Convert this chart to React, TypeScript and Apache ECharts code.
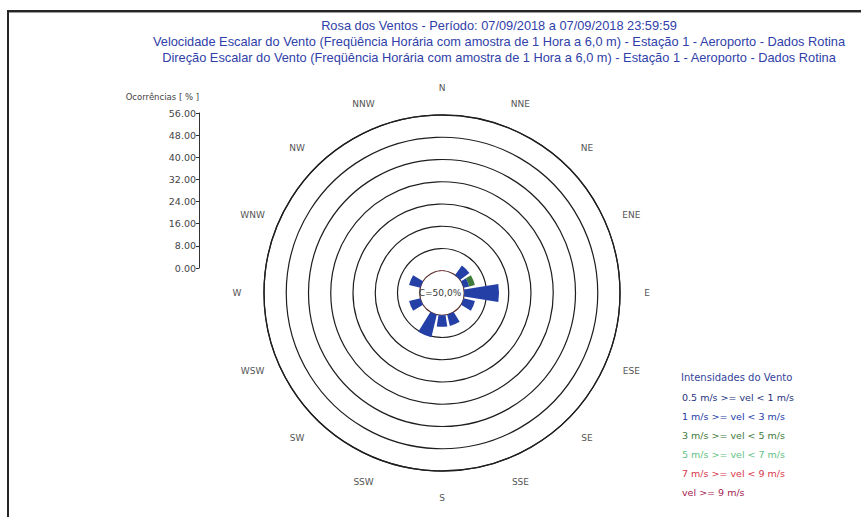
import React, { useEffect, useRef } from "react";
import * as echarts from "echarts";

// Wind directions, clockwise from north
const directions = [
  "N", "NNE", "NE", "ENE", "E", "ESE", "SE", "SSE",
  "S", "SSW", "SW", "WSW", "W", "WNW", "NW", "NNW",
];

// Wind speed classes (legend)
const speedClasses = [
  "0.5 m/s >= vel < 1 m/s",
  "1 m/s >= vel < 3 m/s",
  "3 m/s >= vel < 5 m/s",
  "5 m/s >= vel < 7 m/s",
  "7 m/s >= vel < 9 m/s",
  "vel >= 9 m/s",
];
const classColors = ["#26337e", "#2440a6", "#3f7a3c", "#62c184", "#d8364a", "#a3234f"];

// Occurrence frequency [%] per direction for each speed class
const vel05to1 = [0, 0, 0, 0, 0, 0, 0, 0, 0, 0, 0, 0, 0, 0, 0, 0];
const vel1to3 = [0, 0, 4.17, 2.08, 12.5, 4.17, 0, 4.17, 4.17, 8.33, 0, 4.17, 0, 4.17, 0, 0];
const vel3to5 = [0, 0, 0, 2.08, 0, 0, 0, 0, 0, 0, 0, 0, 0, 0, 0, 0];
const vel5to7 = [0, 0, 0, 0, 0, 0, 0, 0, 0, 0, 0, 0, 0, 0, 0, 0];
const vel7to9 = [0, 0, 0, 0, 0, 0, 0, 0, 0, 0, 0, 0, 0, 0, 0, 0];
const vel9plus = [0, 0, 0, 0, 0, 0, 0, 0, 0, 0, 0, 0, 0, 0, 0, 0];

// Calm percentage
const calmPercent = 50.0;

// Occurrence scale ticks
const occurrenceMin = 0;
const occurrenceMax = 56;
const occurrenceStep = 8;

const titleLines = [
  "Rosa dos Ventos - Período: 07/09/2018 a 07/09/2018 23:59:59",
  "Velocidade Escalar do Vento (Freqüência Horária com amostra de 1 Hora a 6,0 m) - Estação 1 - Aeroporto - Dados Rotina",
  "Direção Escalar do Vento (Freqüência Horária com amostra de 1 Hora a 6,0 m) - Estação 1 - Aeroporto - Dados Rotina",
];

const FONT = "DejaVu Sans, Verdana, sans-serif";
const TITLE_FONT = "Liberation Sans, Arial, sans-serif";
const CENTER_X = 442;
const CENTER_Y = 293;
const RADIUS = 178;
const LABEL_RADIUS = 205;

export default function App() {
  const ref = useRef<HTMLDivElement>(null);

  useEffect(() => {
    document.body.style.margin = "0";
    if (!ref.current) return;
    const chart = echarts.init(ref.current, undefined, { renderer: "svg" });

    const seriesData = [vel05to1, vel1to3, vel3to5, vel5to7, vel7to9, vel9plus];

    // Ring colours: r=0 (hidden), calm circle, then 8..56 %
    const ringColors = ["rgba(0,0,0,0)", "#5a2e2e", "#1e1e1e", "#1e1e1e", "#1e1e1e", "#1e1e1e", "#1e1e1e", "#1e1e1e", "#1e1e1e"];

    // Compass labels, centred on a circle around the rose
    const step = (2 * Math.PI) / directions.length;
    const compassLabels = directions.map((d, i) => ({
      type: "text",
      x: CENTER_X + LABEL_RADIUS * Math.sin(i * step),
      y: CENTER_Y - LABEL_RADIUS * Math.cos(i * step),
      silent: true,
      style: {
        text: d,
        fontSize: 9,
        fontFamily: FONT,
        fill: "#555555",
        textAlign: "center",
        textVerticalAlign: "middle",
      },
    }));

    chart.setOption({
      animation: false,
      backgroundColor: "#ffffff",
      textStyle: { fontFamily: FONT },
      title: [
        {
          text: titleLines.join("\n"),
          left: 494,
          top: 12,
          textAlign: "center",
          textStyle: {
            fontFamily: TITLE_FONT,
            fontSize: 12.8,
            fontWeight: "normal",
            color: "#2f41a8",
            lineHeight: 16,
          },
        },
        {
          text: "Intensidades do Vento",
          left: 676,
          top: 367,
          textStyle: {
            fontFamily: FONT,
            fontSize: 10,
            fontWeight: "normal",
            color: "#34439a",
          },
        },
      ],
      legend: {
        orient: "vertical",
        left: 672,
        top: 386,
        itemWidth: 0,
        itemHeight: 12,
        itemGap: 7,
        icon: "rect",
        selectedMode: false,
        itemStyle: { borderWidth: 0 },
        textStyle: { fontFamily: FONT, fontSize: 9.5 },
        data: speedClasses.map((name, i) => ({
          name,
          textStyle: { color: classColors[i] },
        })),
      },
      polar: { center: [CENTER_X, CENTER_Y], radius: RADIUS },
      angleAxis: {
        type: "category",
        data: directions,
        startAngle: 90 + 360 / directions.length / 2,
        clockwise: true,
        boundaryGap: true,
        axisLine: { show: true, lineStyle: { color: "#1e1e1e", width: 1.3 } },
        axisTick: { show: false },
        splitLine: { show: false },
        axisLabel: { show: false },
      },
      radiusAxis: {
        type: "value",
        min: occurrenceMin - occurrenceStep,
        max: occurrenceMax,
        interval: occurrenceStep,
        axisLine: { show: false },
        axisTick: { show: false },
        axisLabel: { show: false },
        splitLine: { show: true, lineStyle: { color: ringColors, width: 1.2 } },
      },
      grid: { left: 199, top: 113, width: 1, height: 155 },
      xAxis: { type: "value", show: false, min: 0, max: 1 },
      yAxis: {
        type: "value",
        min: occurrenceMin,
        max: occurrenceMax,
        interval: occurrenceStep,
        name: "Ocorrências [ % ]",
        nameLocation: "end",
        nameGap: 12,
        nameTextStyle: { align: "right", fontSize: 8.5, color: "#444444", fontFamily: FONT },
        axisLine: { show: true, lineStyle: { color: "#333333", width: 1 } },
        axisTick: { show: true, length: 3, lineStyle: { color: "#333333" } },
        splitLine: { show: false },
        axisLabel: {
          fontSize: 9.5,
          color: "#444444",
          margin: 3,
          fontFamily: FONT,
          formatter: (v: number) => v.toFixed(2),
        },
      },
      series: [
        ...speedClasses.map((name, i) => ({
          type: "bar",
          name,
          coordinateSystem: "polar",
          stack: "vel",
          data: seriesData[i],
          barCategoryGap: "20%",
          itemStyle: { color: classColors[i] },
        })),
        {
          type: "line",
          data: [],
          xAxisIndex: 0,
          yAxisIndex: 0,
          silent: true,
        },
      ],
      graphic: [
        {
          type: "rect",
          shape: { x: 7, y: 10, width: 861, height: 2 },
          style: { fill: "#262626" },
          silent: true,
        },
        {
          type: "rect",
          shape: { x: 7, y: 12, width: 861, height: 1 },
          style: { fill: "#9a9a9a" },
          silent: true,
        },
        {
          type: "rect",
          shape: { x: 7, y: 10, width: 2, height: 517 },
          style: { fill: "#262626" },
          silent: true,
        },
        ...compassLabels,
        {
          type: "text",
          x: CENTER_X - 2,
          y: CENTER_Y,
          z: 100,
          style: {
            text: `C=${calmPercent.toFixed(1).replace(".", ",")}%`,
            fontSize: 9,
            fontFamily: FONT,
            fill: "#3a3a3a",
            textAlign: "center",
            textVerticalAlign: "middle",
          },
          silent: true,
        },
      ],
    });

    return () => chart.dispose();
  }, []);

  return <div ref={ref} style={{ width: 861, height: 517 }} />;
}
